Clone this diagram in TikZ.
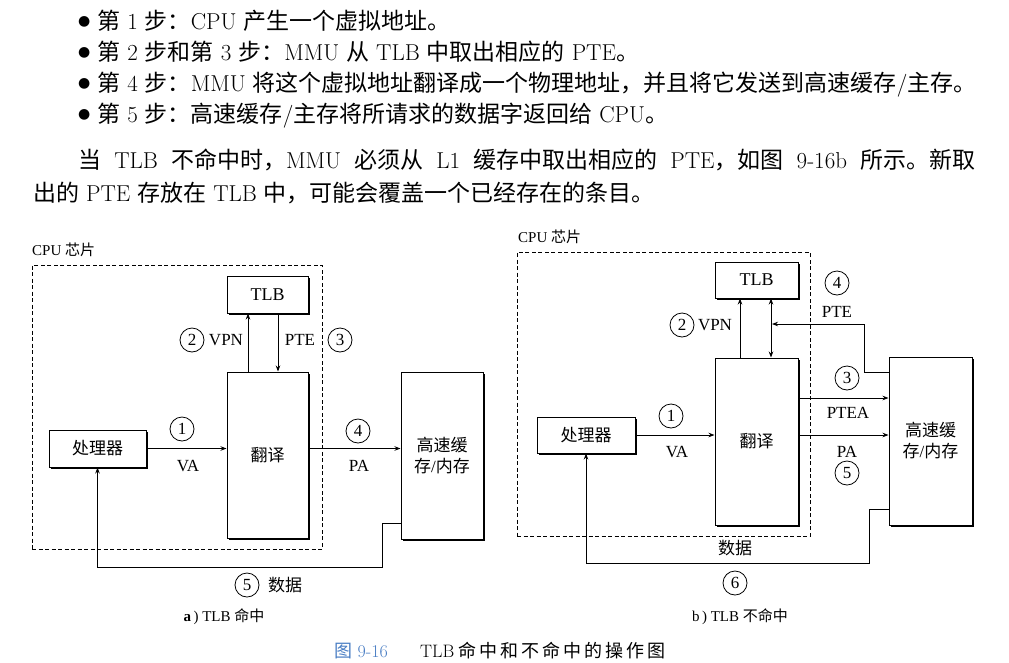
\documentclass[tikz,border=0pt]{standalone}
\usepackage{fontspec}
\newfontfamily\cjk{Noto Sans CJK SC}
\newfontfamily\tms{Liberation Serif}
\newfontfamily\djv{DejaVu Sans}
\usetikzlibrary{arrows.meta,shadows}
\newcommand\zh[1]{{\cjk #1}}
\newcommand\bigbullet{\raisebox{3.5pt}{\djv\fontsize{14}{14}\selectfont ●}\hspace{7pt}}
\definecolor{capblue}{RGB}{74,126,196}

\tikzset{
  box/.style={draw, line width=1pt, fill=white, inner sep=0pt, align=center,
    general shadow={shadow xshift=2pt, shadow yshift=-2pt, fill=black},
    font=\tms\fontsize{17}{21}\selectfont},
  chip/.style={draw, line width=0.9pt, dash pattern=on 4pt off 2.5pt, inner sep=0pt},
  arr/.style={line width=0.8pt, -{Stealth[length=6pt,width=4.5pt]}},
  dblarr/.style={line width=0.8pt, {Stealth[length=6pt,width=4.5pt]}-{Stealth[length=6pt,width=4.5pt]}},
  num/.style={circle, draw, line width=0.8pt, minimum size=24pt, inner sep=0pt,
    font=\tms\fontsize{17}{17}\selectfont},
  lbl/.style={inner sep=0pt, font=\tms\fontsize{17}{17}\selectfont},
  chiplbl/.style={inner sep=0pt, anchor=west, font=\tms\fontsize{15}{15}\selectfont},
  sub/.style={inner sep=0pt, font=\tms\fontsize{15}{15}\selectfont},
  para/.style={inner sep=0pt, anchor=base west, text height=18pt, text depth=5pt,
    font=\fontsize{23}{27}\selectfont},
}

\begin{document}
\begin{tikzpicture}[x=1pt, y=-1pt]
\useasboundingbox[fill=white] (0,0) rectangle (1009,662);

% ---- running text above the figure ----
\node[para] (t1) at (78,29) {\bigbullet\zh{第} 1 \zh{步：}CPU \zh{产生一个虚拟地址。}};
\node[para] (t2) at (78,60) {\bigbullet\zh{第} 2 \zh{步和第} 3 \zh{步：}MMU \zh{从} TLB \zh{中取出相应的} PTE\zh{。}};
\node[para] (t3) at (78,91) {\bigbullet\zh{第} 4 \zh{步：}MMU \zh{将这个虚拟地址翻译成一个物理地址，并且将它发送到高速缓存}/\zh{主存。}};
\node[para] (t4) at (78,122) {\bigbullet\zh{第} 5 \zh{步：高速缓存}/\zh{主存将所请求的数据字返回给} CPU\zh{。}};
\node[para] (t5) at (78,168) {\makebox[897pt][s]{\zh{当} TLB \zh{不命中时，}MMU \zh{必须从} L1 \zh{缓存中取出相应的} PTE\zh{，如图} 9-16b \zh{所示。新取}}};
\node[para] (t6) at (33,201) {\zh{出的} PTE \zh{存放在} TLB \zh{中，可能会覆盖一个已经存在的条目。}};

% ---- (a) TLB hit ----
\node[chip, minimum width=290, minimum height=284] (chipA) at (177,407) {};
\node[chiplbl] (chipAl) at (32,250) {CPU \zh{芯片}};
\node[box, minimum width=81, minimum height=37] (tlbA) at (267.5,294.5) {\fontsize{18}{18}\selectfont TLB};
\node[box, minimum width=81, minimum height=166] (xlA) at (267.5,455) {\zh{翻译}};
\node[box, minimum width=97, minimum height=37] (cpuA) at (97.5,448.5) {\zh{处理器}};
\node[box, minimum width=82, minimum height=167] (memA) at (442,455.5) {\zh{高速缓}\\\zh{存}/\zh{内存}};

\draw[arr] ([xshift=-19.5pt]xlA.north) -- ([xshift=-19.5pt]tlbA.south);
\draw[arr] ([xshift=10.5pt]tlbA.south) -- ([xshift=10.5pt]xlA.north);
\draw[arr] (cpuA.east) -- (cpuA.east -| xlA.west);
\draw[arr] (xlA.east |- cpuA.east) -- (memA.west |- cpuA.east);
\draw[arr] ([yshift=16pt]memA.south west) -- ++(-18,0) -- ++(0,44) -| (cpuA.south);

\node[num] (n1a) at (182,429) {1};
\node[lbl] (vaA) at (188,466) {VA};
\node[num] (n2a) at (192,340) {2};
\node[lbl] (vpnA) at (226,340) {VPN};
\node[lbl] (pteA) at (300,340) {PTE};
\node[num] (n3a) at (340,340) {3};
\node[num] (n4a) at (358,431) {4};
\node[lbl] (paA) at (359,466) {PA};
\node[num] (n5a) at (247,585) {5};
\node[lbl] (dataA) at (285,585) {\zh{数据}};
\node[sub] (capA) at (224,617) {\textbf{a}\,) TLB \zh{命中}};

% ---- (b) TLB miss ----
\node[chip, minimum width=293, minimum height=284] (chipB) at (663.5,394) {};
\node[chiplbl] (chipBl) at (518,237) {CPU \zh{芯片}};
\node[box, minimum width=83, minimum height=36] (tlbB) at (756.5,280) {\fontsize{18}{18}\selectfont TLB};
\node[box, minimum width=83, minimum height=167] (xlB) at (756.5,441.5) {\zh{翻译}};
\node[box, minimum width=98, minimum height=36] (cpuB) at (586,435) {\zh{处理器}};
\node[box, minimum width=83, minimum height=168] (memB) at (930.5,441) {\zh{高速缓}\\\zh{存}/\zh{内存}};

\coordinate (pteIn) at (772,324);
\coordinate (pteaOut) at ([yshift=43.5pt]xlB.east);
\draw[arr] ([xshift=-16.5pt]xlB.north) -- ([xshift=-16.5pt]tlbB.south);
\draw[dblarr] ([xshift=14.5pt]xlB.north) -- ([xshift=14.5pt]tlbB.south);
\draw[arr] ([yshift=-16pt]memB.north west) -- ++(-24,0) |- (pteIn);
\draw[arr] (pteaOut) -- (pteaOut -| memB.west);
\draw[arr] (cpuB.east) -- (cpuB.east -| xlB.west);
\draw[arr] (xlB.east |- cpuB.east) -- (memB.west |- cpuB.east);
\draw[arr] ([yshift=16pt]memB.south west) -- ++(-19,0) -- ++(0,54) -| (cpuB.south);

\node[num] (n1b) at (671,416) {1};
\node[lbl] (vaB) at (677,452) {VA};
\node[num] (n2b) at (682,325) {2};
\node[lbl] (vpnB) at (715,325) {VPN};
\node[num] (n4b) at (837,283) {4};
\node[lbl] (pteB) at (837,312) {PTE};
\node[num] (n3b) at (847,378) {3};
\node[lbl] (pteaB) at (848,413) {PTEA};
\node[lbl] (paB) at (847,452) {PA};
\node[num] (n5b) at (847,473) {5};
\node[lbl] (dataB) at (735,548) {\zh{数据}};
\node[num] (n6b) at (735,583) {6};
\node[sub] (capB) at (740,617) {b\,) TLB \zh{不命中}};

% ---- figure caption ----
\node[inner sep=0pt, anchor=base west, font=\fontsize{18}{18}\selectfont, text=capblue] (figno) at (334,657) {\zh{图} 9-16};
\node[inner sep=0pt, anchor=base west, font=\fontsize{18}{18}\selectfont] (figtitle) at (420,657)
  {TLB\hspace{4pt}\zh{命\hspace{3pt}中\hspace{3pt}和\hspace{3pt}不\hspace{3pt}命\hspace{3pt}中\hspace{3pt}的\hspace{3pt}操\hspace{3pt}作\hspace{3pt}图}};
\end{tikzpicture}
\end{document}
